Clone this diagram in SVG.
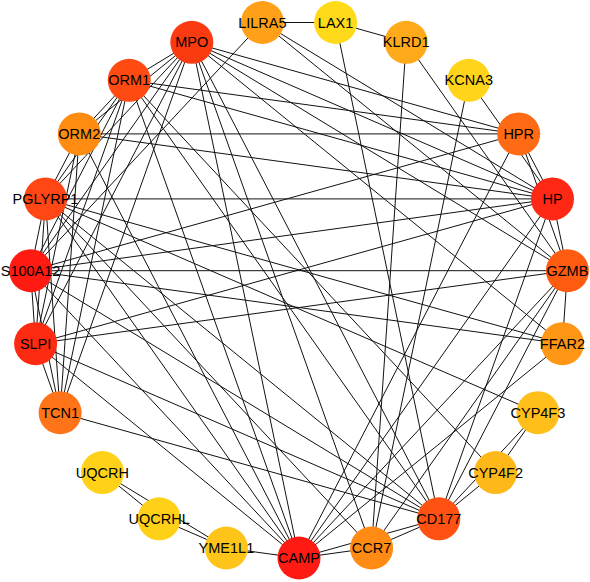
<svg xmlns="http://www.w3.org/2000/svg" width="590" height="582" viewBox="0 0 590 582">
<style>
  .e line { stroke: #111; stroke-width: 1; }
  .n text { font-family: "Liberation Sans", Arial, sans-serif; font-size: 14.5px; fill: #000; text-anchor: middle; }
</style>
<rect width="590" height="582" fill="#fff"/>
<g id="edges" class="e">
  <line x1="262.4" y1="22.5" x2="335.6" y2="22.5"/>
  <line x1="335.6" y1="22.5" x2="406.2" y2="42.3"/>
  <line x1="102.4" y1="472.6" x2="159.2" y2="518.8"/>
  <line x1="159.2" y1="518.8" x2="226.4" y2="548"/>
  <line x1="102.4" y1="472.6" x2="226.4" y2="548"/>
  <line x1="226.4" y1="548" x2="299" y2="558"/>
  <line x1="299" y1="558" x2="371.6" y2="548"/>
  <line x1="299" y1="558" x2="438.8" y2="518.8"/>
  <line x1="371.6" y1="548" x2="438.8" y2="518.8"/>
  <line x1="438.8" y1="518.8" x2="495.6" y2="472.6"/>
  <line x1="438.8" y1="518.8" x2="537.9" y2="412.7"/>
  <line x1="495.6" y1="472.6" x2="537.9" y2="412.7"/>
  <line x1="518.7" y1="133.9" x2="552.5" y2="198.9"/>
  <line x1="518.7" y1="133.9" x2="567.4" y2="270.7"/>
  <line x1="552.5" y1="198.9" x2="567.4" y2="270.7"/>
  <line x1="567.4" y1="270.7" x2="562.4" y2="343.7"/>
  <line x1="191.8" y1="42.3" x2="129.2" y2="80.3"/>
  <line x1="60.1" y1="412.7" x2="35.6" y2="343.7"/>
  <line x1="35.6" y1="343.7" x2="30.6" y2="270.7"/>
  <line x1="30.6" y1="270.7" x2="45.5" y2="198.9"/>
  <line x1="45.5" y1="198.9" x2="79.3" y2="133.9"/>
  <line x1="79.3" y1="133.9" x2="129.2" y2="80.3"/>
  <line x1="60.1" y1="412.7" x2="30.6" y2="270.7"/>
  <line x1="60.1" y1="412.7" x2="45.5" y2="198.9"/>
  <line x1="60.1" y1="412.7" x2="79.3" y2="133.9"/>
  <line x1="60.1" y1="412.7" x2="129.2" y2="80.3"/>
  <line x1="60.1" y1="412.7" x2="191.8" y2="42.3"/>
  <line x1="35.6" y1="343.7" x2="45.5" y2="198.9"/>
  <line x1="35.6" y1="343.7" x2="79.3" y2="133.9"/>
  <line x1="35.6" y1="343.7" x2="129.2" y2="80.3"/>
  <line x1="35.6" y1="343.7" x2="191.8" y2="42.3"/>
  <line x1="30.6" y1="270.7" x2="129.2" y2="80.3"/>
  <line x1="30.6" y1="270.7" x2="191.8" y2="42.3"/>
  <line x1="45.5" y1="198.9" x2="129.2" y2="80.3"/>
  <line x1="45.5" y1="198.9" x2="191.8" y2="42.3"/>
  <line x1="79.3" y1="133.9" x2="191.8" y2="42.3"/>
  <line x1="79.3" y1="133.9" x2="518.7" y2="133.9"/>
  <line x1="79.3" y1="133.9" x2="552.5" y2="198.9"/>
  <line x1="129.2" y1="80.3" x2="518.7" y2="133.9"/>
  <line x1="129.2" y1="80.3" x2="552.5" y2="198.9"/>
  <line x1="45.5" y1="198.9" x2="552.5" y2="198.9"/>
  <line x1="45.5" y1="198.9" x2="562.4" y2="343.7"/>
  <line x1="30.6" y1="270.7" x2="552.5" y2="198.9"/>
  <line x1="30.6" y1="270.7" x2="518.7" y2="133.9"/>
  <line x1="30.6" y1="270.7" x2="567.4" y2="270.7"/>
  <line x1="30.6" y1="270.7" x2="562.4" y2="343.7"/>
  <line x1="35.6" y1="343.7" x2="552.5" y2="198.9"/>
  <line x1="35.6" y1="343.7" x2="567.4" y2="270.7"/>
  <line x1="191.8" y1="42.3" x2="552.5" y2="198.9"/>
  <line x1="191.8" y1="42.3" x2="567.4" y2="270.7"/>
  <line x1="191.8" y1="42.3" x2="562.4" y2="343.7"/>
  <line x1="191.8" y1="42.3" x2="518.7" y2="133.9"/>
  <line x1="262.4" y1="22.5" x2="552.5" y2="198.9"/>
  <line x1="262.4" y1="22.5" x2="567.4" y2="270.7"/>
  <line x1="262.4" y1="22.5" x2="30.6" y2="270.7"/>
  <line x1="406.2" y1="42.3" x2="371.6" y2="548"/>
  <line x1="406.2" y1="42.3" x2="567.4" y2="270.7"/>
  <line x1="468.8" y1="80.3" x2="371.6" y2="548"/>
  <line x1="468.8" y1="80.3" x2="552.5" y2="198.9"/>
  <line x1="335.6" y1="22.5" x2="438.8" y2="518.8"/>
  <line x1="60.1" y1="412.7" x2="438.8" y2="518.8"/>
  <line x1="35.6" y1="343.7" x2="438.8" y2="518.8"/>
  <line x1="35.6" y1="343.7" x2="299" y2="558"/>
  <line x1="30.6" y1="270.7" x2="299" y2="558"/>
  <line x1="30.6" y1="270.7" x2="438.8" y2="518.8"/>
  <line x1="45.5" y1="198.9" x2="299" y2="558"/>
  <line x1="45.5" y1="198.9" x2="371.6" y2="548"/>
  <line x1="45.5" y1="198.9" x2="438.8" y2="518.8"/>
  <line x1="79.3" y1="133.9" x2="299" y2="558"/>
  <line x1="129.2" y1="80.3" x2="299" y2="558"/>
  <line x1="129.2" y1="80.3" x2="438.8" y2="518.8"/>
  <line x1="191.8" y1="42.3" x2="299" y2="558"/>
  <line x1="191.8" y1="42.3" x2="371.6" y2="548"/>
  <line x1="191.8" y1="42.3" x2="438.8" y2="518.8"/>
  <line x1="537.9" y1="412.7" x2="45.5" y2="198.9"/>
  <line x1="495.6" y1="472.6" x2="129.2" y2="80.3"/>
  <line x1="552.5" y1="198.9" x2="299" y2="558"/>
  <line x1="552.5" y1="198.9" x2="438.8" y2="518.8"/>
  <line x1="567.4" y1="270.7" x2="299" y2="558"/>
  <line x1="567.4" y1="270.7" x2="371.6" y2="548"/>
  <line x1="567.4" y1="270.7" x2="438.8" y2="518.8"/>
  <line x1="562.4" y1="343.7" x2="299" y2="558"/>
  <line x1="518.7" y1="133.9" x2="299" y2="558"/>
</g>
<g id="node-CAMP" class="n"><circle cx="299" cy="558" r="21.5" fill="#ff1a14"/><text x="299" y="563">CAMP</text></g>
<g id="node-CCR7" class="n"><circle cx="371.6" cy="548" r="21.5" fill="#ff8a14"/><text x="371.6" y="553">CCR7</text></g>
<g id="node-CD177" class="n"><circle cx="438.8" cy="518.8" r="21.5" fill="#ff5212"/><text x="438.8" y="523.8">CD177</text></g>
<g id="node-CYP4F2" class="n"><circle cx="495.6" cy="472.6" r="21.5" fill="#ffb81a"/><text x="495.6" y="477.6">CYP4F2</text></g>
<g id="node-CYP4F3" class="n"><circle cx="537.9" cy="412.7" r="21.5" fill="#ffbe1a"/><text x="537.9" y="417.7">CYP4F3</text></g>
<g id="node-FFAR2" class="n"><circle cx="562.4" cy="343.7" r="21.5" fill="#ff9614"/><text x="562.4" y="348.7">FFAR2</text></g>
<g id="node-GZMB" class="n"><circle cx="567.4" cy="270.7" r="21.5" fill="#ff5c12"/><text x="567.4" y="275.7">GZMB</text></g>
<g id="node-HP" class="n"><circle cx="552.5" cy="198.9" r="21.5" fill="#ff2814"/><text x="552.5" y="203.9">HP</text></g>
<g id="node-HPR" class="n"><circle cx="518.7" cy="133.9" r="21.5" fill="#ff6a14"/><text x="518.7" y="138.9">HPR</text></g>
<g id="node-KCNA3" class="n"><circle cx="468.8" cy="80.3" r="21.5" fill="#ffd41a"/><text x="468.8" y="85.3">KCNA3</text></g>
<g id="node-KLRD1" class="n"><circle cx="406.2" cy="42.3" r="21.5" fill="#ffaa1a"/><text x="406.2" y="47.3">KLRD1</text></g>
<g id="node-LAX1" class="n"><circle cx="335.6" cy="22.5" r="21.5" fill="#ffda1a"/><text x="335.6" y="27.5">LAX1</text></g>
<g id="node-LILRA5" class="n"><circle cx="262.4" cy="22.5" r="21.5" fill="#ffa018"/><text x="262.4" y="27.5">LILRA5</text></g>
<g id="node-MPO" class="n"><circle cx="191.8" cy="42.3" r="21.5" fill="#fa3a10"/><text x="191.8" y="47.3">MPO</text></g>
<g id="node-ORM1" class="n"><circle cx="129.2" cy="80.3" r="21.5" fill="#ff4a12"/><text x="129.2" y="85.3">ORM1</text></g>
<g id="node-ORM2" class="n"><circle cx="79.3" cy="133.9" r="21.5" fill="#ff8c10"/><text x="79.3" y="138.9">ORM2</text></g>
<g id="node-PGLYRP1" class="n"><circle cx="45.5" cy="198.9" r="21.5" fill="#ff4614"/><text x="45.5" y="203.9">PGLYRP1</text></g>
<g id="node-S100A12" class="n"><circle cx="30.6" cy="270.7" r="21.5" fill="#ff1a12"/><text x="30.6" y="275.7">S100A12</text></g>
<g id="node-SLPI" class="n"><circle cx="35.6" cy="343.7" r="21.5" fill="#ff2a12"/><text x="35.6" y="348.7">SLPI</text></g>
<g id="node-TCN1" class="n"><circle cx="60.1" cy="412.7" r="21.5" fill="#ff7418"/><text x="60.1" y="417.7">TCN1</text></g>
<g id="node-UQCRH" class="n"><circle cx="102.4" cy="472.6" r="21.5" fill="#ffd218"/><text x="102.4" y="477.6">UQCRH</text></g>
<g id="node-UQCRHL" class="n"><circle cx="159.2" cy="518.8" r="21.5" fill="#ffd018"/><text x="159.2" y="523.8">UQCRHL</text></g>
<g id="node-YME1L1" class="n"><circle cx="226.4" cy="548" r="21.5" fill="#ffc41a"/><text x="226.4" y="553">YME1L1</text></g>
</svg>
